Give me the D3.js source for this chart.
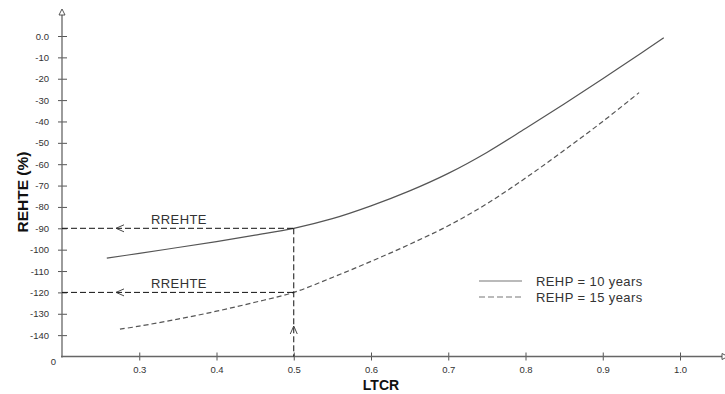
<!DOCTYPE html>
<html>
<head>
<meta charset="utf-8">
<script src="https://cdn.jsdelivr.net/npm/d3@7"></script>
<style>
  html, body { margin: 0; padding: 0; background: #fff; }
  svg { display: block; font-family: "Liberation Sans", Arial, sans-serif; }
</style>
</head>
<body>
<svg id="chart" width="725" height="394"></svg>
<script>
// REHTE against LTCR for two payback periods
const ltcr10 = [0.258, 0.3, 0.35, 0.4, 0.45, 0.5, 0.55, 0.6, 0.65, 0.7, 0.75, 0.8, 0.85, 0.9, 0.95, 0.979];
const rehte10 = [-104, -101.7, -99, -96.2, -93.2, -90, -85.5, -79.5, -72.5, -64.3, -54.5, -43.3, -31.8, -20, -7.9, -0.8];
const ltcr15 = [0.275, 0.3, 0.35, 0.4, 0.45, 0.5, 0.55, 0.6, 0.65, 0.7, 0.75, 0.8, 0.85, 0.9, 0.947];
const rehte15 = [-137.2, -135.8, -132.5, -128.8, -124.6, -120, -113, -105.5, -97.5, -88.8, -78.5, -66.5, -53.5, -40, -26.5];

const seriesNames = ["REHP = 10 years", "REHP = 15 years"];
const xTicks = [0.3, 0.4, 0.5, 0.6, 0.7, 0.8, 0.9, 1.0];
const yTicks = [0, -10, -20, -30, -40, -50, -60, -70, -80, -90, -100, -110, -120, -130, -140];
const xTickLabels = ["0.3", "0.4", "0.5", "0.6", "0.7", "0.8", "0.9", "1.0"];
const yTickLabels = ["0.0", "-10", "-20", "-30", "-40", "-50", "-60", "-70", "-80", "-90", "-100", "-110", "-120", "-130", "-140"];

// Reference readings at LTCR = 0.5
const refLtcr = 0.5;
const refLevels = [-90, -120];
const refLabel = "RREHTE";

const svg = d3.select("#chart");
const x = d3.scaleLinear().domain([0.2, 1.0]).range([62, 680]);
const y = d3.scaleLinear().domain([-150, 0]).range([356.5, 36]);

const axisColor = "#666";
const textColor = "#333";

// Y axis
const yAxis = d3.axisLeft(y)
  .tickValues(yTicks)
  .tickFormat((d, i) => yTickLabels[i])
  .tickSize(4)
  .tickPadding(9);
const gy = svg.append("g").attr("transform", `translate(${x(0.2)},0)`).call(yAxis);
gy.select(".domain").remove();
gy.selectAll(".tick line").attr("x1", -4).attr("x2", 5).attr("stroke", "#555");
gy.selectAll(".tick text").attr("fill", textColor).style("font-size", "9.5px")
  .style("font-family", "'Liberation Sans', Arial, sans-serif");

// X axis
const xAxis = d3.axisBottom(x)
  .tickValues(xTicks)
  .tickFormat((d, i) => xTickLabels[i])
  .tickSize(4)
  .tickPadding(6);
const gx = svg.append("g").attr("transform", `translate(0,${y(-150)})`).call(xAxis);
gx.select(".domain").remove();
gx.selectAll(".tick line").attr("y1", -4).attr("y2", 4).attr("stroke", "#555");
gx.selectAll(".tick text").attr("fill", textColor).style("font-size", "9.5px")
  .style("font-family", "'Liberation Sans', Arial, sans-serif");

// Axis lines with hollow arrow heads
const x0 = x(0.2), yB = y(-150);
svg.append("line").attr("x1", x0).attr("x2", x0).attr("y1", 15).attr("y2", yB + 1)
  .attr("stroke", axisColor).attr("stroke-width", 1.3);
svg.append("path").attr("d", `M${x0},9 L${x0 - 3},15 L${x0 + 3},15 Z`)
  .attr("fill", "#fff").attr("stroke", "#444").attr("stroke-width", 0.9);
svg.append("line").attr("x1", x0 - 1).attr("x2", 722).attr("y1", yB).attr("y2", yB)
  .attr("stroke", axisColor).attr("stroke-width", 1.3);
svg.append("path").attr("d", `M722,${yB - 3} L728,${yB} L722,${yB + 3} Z`)
  .attr("fill", "#fff").attr("stroke", "#444").attr("stroke-width", 0.9);

// Origin label
svg.append("text").attr("x", 56).attr("y", yB + 8)
  .attr("text-anchor", "end").attr("fill", textColor).style("font-size", "9.5px").text("0");

// Axis titles
svg.append("text").attr("x", 381).attr("y", 390).attr("text-anchor", "middle")
  .attr("fill", "#111").style("font-size", "14px").style("font-weight", "bold").text("LTCR");
svg.append("text").attr("transform", `translate(28,${192}) rotate(-90)`).attr("text-anchor", "middle")
  .attr("fill", "#111").style("font-size", "15.5px").style("font-weight", "bold").text("REHTE (%)");

// Curves
const line = d3.line().x(d => x(d[0])).y(d => y(d[1])).curve(d3.curveCatmullRom.alpha(0.5));
const data10 = ltcr10.map((v, i) => [v, rehte10[i]]);
const data15 = ltcr15.map((v, i) => [v, rehte15[i]]);
svg.append("path").datum(data10).attr("d", line)
  .attr("fill", "none").attr("stroke", "#555").attr("stroke-width", 1.2);
svg.append("path").datum(data15).attr("d", line)
  .attr("fill", "none").attr("stroke", "#555").attr("stroke-width", 1.2)
  .attr("stroke-dasharray", "5,3");

// Reference guide lines
const guideDash = "6,3";
refLevels.forEach(v => {
  svg.append("line").attr("x1", x0).attr("x2", x(refLtcr)).attr("y1", y(v)).attr("y2", y(v))
    .attr("stroke", "#111").attr("stroke-width", 1).attr("stroke-dasharray", guideDash);
  // open arrow head pointing left
  svg.append("path").attr("d", `M124,${y(v) - 3.5} L116,${y(v)} L124,${y(v) + 3.5}`)
    .attr("fill", "none").attr("stroke", "#333").attr("stroke-width", 0.9);
  svg.append("text").attr("x", 151).attr("y", y(v) - 4.5)
    .attr("fill", textColor).style("font-size", "13px").style("letter-spacing", "0.4px").text(refLabel);
});
svg.append("line").attr("x1", x(refLtcr)).attr("x2", x(refLtcr))
  .attr("y1", y(refLevels[0])).attr("y2", yB)
  .attr("stroke", "#111").attr("stroke-width", 1).attr("stroke-dasharray", guideDash);
// open arrow head pointing up
const xr = x(refLtcr);
svg.append("path").attr("d", `M${xr - 3.5},334 L${xr},326 L${xr + 3.5},334`)
  .attr("fill", "none").attr("stroke", "#333").attr("stroke-width", 0.9);

// Legend
const legend = svg.append("g");
[0, 1].forEach(i => {
  const ly = 281 + i * 16;
  legend.append("line").attr("x1", 479).attr("x2", 522).attr("y1", ly).attr("y2", ly)
    .attr("stroke", "#777").attr("stroke-width", 1.2)
    .attr("stroke-dasharray", i === 1 ? "6,3" : null);
  legend.append("text").attr("x", 536).attr("y", ly + 4.5)
    .attr("fill", textColor).style("font-size", "13px").style("letter-spacing", "0.4px")
    .text(seriesNames[i]);
});
</script>
</body>
</html>
